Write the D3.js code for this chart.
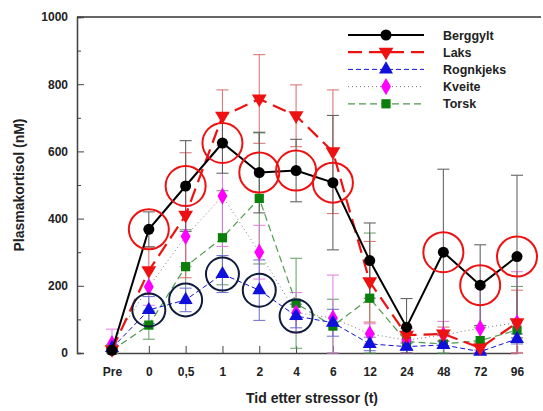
<!DOCTYPE html>
<html>
<head>
<meta charset="utf-8">
<script src="https://cdn.jsdelivr.net/npm/d3@7"></script>
<style>
  body { margin: 0; background: #fff; }
  text { font-family: "Liberation Sans", Arial, sans-serif; font-weight: bold; }
</style>
</head>
<body>
<div id="chart"></div>
<script>
// time points (categorical x axis)
var times = ["Pre", "0", "0,5", "1", "2", "4", "6", "12", "24", "48", "72", "96"];
var yTicks = [0, 200, 400, 600, 800, 1000];

// mean plasma cortisol (nM) and error bars
var berggylt     = [8, 368, 497, 625, 537, 543, 507, 275, 77, 300, 202, 287];
var berggyltErr  = [5, 52, 135, 90, 120, 93, 200, 112, 85, 247, 120, 242];
var laks         = [10, 245, 410, 705, 756, 706, 599, 212, 53, 57, 15, 90];
var laksErr      = [10, 70, 186, 78, 132, 92, 184, 120, 20, 20, 15, 97];
var rognkjeks    = [15, 128, 158, 235, 187, 110, 90, 27, 19, 24, 4, 42];
var rognkjeksErr = [10, 40, 35, 55, 90, 35, 40, 20, 10, 10, 5, 15];
var kveite       = [28, 197, 347, 467, 300, 120, 104, 57, 38, 54, 74, 90];
var kveiteErr    = [43, 55, 90, 150, 80, 60, 128, 30, 40, 40, 120, 152];
var torsk        = [8, 83, 257, 343, 460, 148, 80, 163, 34, 27, 37, 68];
var torskErr     = [5, 42, 110, 140, 195, 134, 80, 194, 25, 30, 40, 130];

// highlighted points (indices into times)
var redRings  = [1, 2, 3, 4, 5, 6, 9, 10, 11];
var navyRings = [1, 2, 3, 4, 5];

var series = [
  { name: "Berggylt",  vals: berggylt,  err: berggyltErr,  color: "#000000", bar: "#555555", dash: null,   lw: 2,   sym: d3.symbolCircle,   size: 95 },
  { name: "Laks",      vals: laks,      err: laksErr,      color: "#ee1111", bar: "#d86a6a", dash: "14,7", lw: 2.2, sym: "down",           size: 95 },
  { name: "Rognkjeks", vals: rognkjeks, err: rognkjeksErr, color: "#1010dd", bar: "#6a6ad0", dash: "5,3",  lw: 1,   sym: d3.symbolTriangle, size: 85 },
  { name: "Kveite",    vals: kveite,    err: kveiteErr,    color: "#ff00ff", bar: "#e27ae2", dash: "1,3",  lw: 1,   sym: d3.symbolDiamond,  size: 85, line: "#777777" },
  { name: "Torsk",     vals: torsk,     err: torskErr,     color: "#0a800a", bar: "#5e9e5e", dash: "7,4",  lw: 1.2, sym: d3.symbolSquare,   size: 85, line: "#4e9a4e" }
];

var W = 543, H = 411;
var margin = { top: 17, right: 2, bottom: 58, left: 77 };
var width = W - margin.left - margin.right;
var height = H - margin.top - margin.bottom;

var svg = d3.select("#chart").append("svg").attr("width", W).attr("height", H);
var g = svg.append("g").attr("transform", "translate(" + margin.left + "," + margin.top + ")");

var x = d3.scalePoint().domain(times).range([35, width - 24]);
var y = d3.scaleLinear().domain([0, 1000]).range([height, 0]);

// frame
g.append("line").attr("x1", 0).attr("x2", width).attr("y1", 0).attr("y2", 0).attr("stroke", "#333").attr("stroke-width", 1.3);

// axes (ticks inside)
g.append("g").call(d3.axisLeft(y).tickValues(yTicks).tickFormat(d3.format("d")).tickSize(-7).tickPadding(9));
g.append("g").call(d3.axisLeft(y).tickValues(d3.range(100, 1000, 200)).tickSize(-4).tickFormat(""));
g.append("g").attr("transform", "translate(0," + height + ")")
  .call(d3.axisBottom(x).tickSize(-7).tickPadding(14));
g.selectAll(".domain").attr("stroke", "#444").attr("stroke-width", 1.3);
g.selectAll(".tick line").attr("stroke", "#444");
g.selectAll(".tick text").attr("font-size", 12).attr("fill", "#222")
  .style("font-family", "'Liberation Sans', Arial, sans-serif").style("font-weight", "bold");

svg.append("text").attr("x", margin.left + width / 2 + 3).attr("y", 403)
  .attr("text-anchor", "middle").attr("font-size", 14).attr("fill", "#222").text("Tid etter stressor (t)");
svg.append("text").attr("transform", "translate(24," + (margin.top + height / 2) + ") rotate(-90)")
  .attr("text-anchor", "middle").attr("font-size", 14).attr("fill", "#222").text("Plasmakortisol (nM)");

var downTri = {
  draw: function(ctx, size) {
    var s = Math.sqrt(size / 0.433) / 2;
    ctx.moveTo(-s, -s * 0.6); ctx.lineTo(s, -s * 0.6); ctx.lineTo(0, s * 1.1); ctx.closePath();
  }
};
function symType(s) { return s.sym === "down" ? downTri : s.sym; }

// error bars
var cap = 6;
series.slice().reverse().forEach(function(s) {
  var eb = g.append("g").attr("stroke", s.bar).attr("stroke-width", 1.1).attr("opacity", 0.9);
  times.forEach(function(t, i) {
    var lo = y(Math.max(0, s.vals[i] - s.err[i])), hi = y(s.vals[i] + s.err[i]), cx = x(t);
    eb.append("line").attr("x1", cx).attr("x2", cx).attr("y1", lo).attr("y2", hi);
    eb.append("line").attr("x1", cx - cap).attr("x2", cx + cap).attr("y1", hi).attr("y2", hi);
    eb.append("line").attr("x1", cx - cap).attr("x2", cx + cap).attr("y1", lo).attr("y2", lo);
  });
});

// lines and markers
var line = d3.line().x(function(d, i) { return x(times[i]); }).y(function(d) { return y(d); });
series.slice().reverse().forEach(function(s) {
  g.append("path").datum(s.vals).attr("d", line).attr("fill", "none")
    .attr("stroke", s.line || s.color).attr("stroke-width", s.lw)
    .attr("stroke-dasharray", s.dash);
  g.selectAll(null).data(s.vals).enter().append("path")
    .attr("transform", function(d, i) { return "translate(" + x(times[i]) + "," + y(d) + ")"; })
    .attr("d", d3.symbol().type(symType(s)).size(s.size))
    .attr("fill", s.color);
});

// highlight rings
g.selectAll(".rr").data(redRings).enter().append("circle")
  .attr("cx", function(i) { return x(times[i]); }).attr("cy", function(i) { return y(berggylt[i]); })
  .attr("r", 20).attr("fill", "none").attr("stroke", "#ee1111").attr("stroke-width", 2);
g.selectAll(".nr").data(navyRings).enter().append("circle")
  .attr("cx", function(i) { return x(times[i]); }).attr("cy", function(i) { return y(rognkjeks[i]); })
  .attr("r", 16.5).attr("fill", "none").attr("stroke", "#0f1c3c").attr("stroke-width", 2);

// legend
var lg = svg.append("g");
series.forEach(function(s, k) {
  var ly = 35 + k * 17.2;
  lg.append("line").attr("x1", 348).attr("x2", 424).attr("y1", ly).attr("y2", ly)
    .attr("stroke", s.line || s.color).attr("stroke-width", s.lw).attr("stroke-dasharray", s.dash);
  lg.append("path").attr("transform", "translate(386," + ly + ")")
    .attr("d", d3.symbol().type(symType(s)).size(s.size)).attr("fill", s.color);
  lg.append("text").attr("x", 443).attr("y", ly + 4.5).attr("font-size", 12.5).attr("fill", "#222").text(s.name);
});
</script>
</body>
</html>
